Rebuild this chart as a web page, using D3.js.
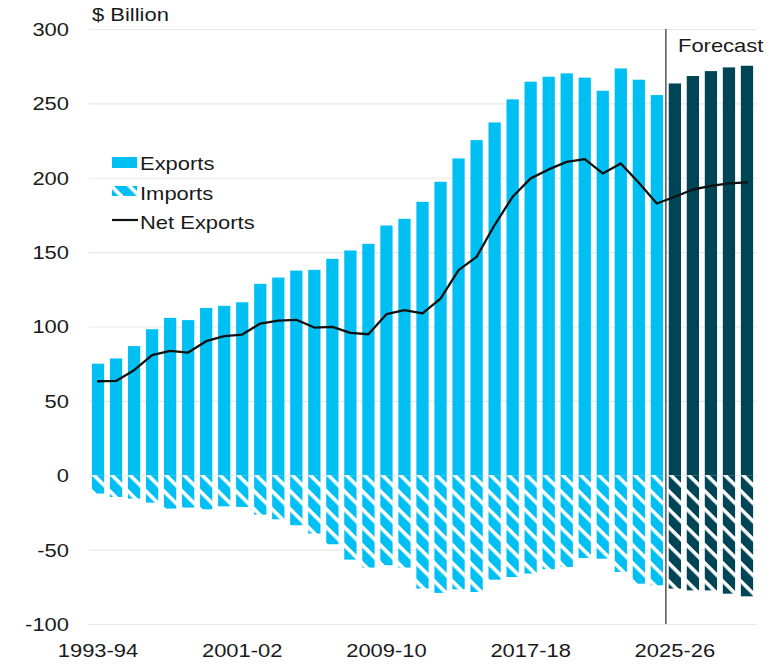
<!DOCTYPE html>
<html>
<head>
<meta charset="utf-8">
<script src="https://cdn.jsdelivr.net/npm/d3@7/dist/d3.min.js"></script>
<style>
  html, body { margin: 0; padding: 0; background: #fff; }
  svg { display: block; }
  text { font-family: "Liberation Sans", Arial, sans-serif; fill: #1a1a1a; }
</style>
</head>
<body>
<svg id="chart" width="782" height="664"></svg>
<script>
// Financial years
const years = [
  "1993-94","1994-95","1995-96","1996-97","1997-98","1998-99","1999-00","2000-01",
  "2001-02","2002-03","2003-04","2004-05","2005-06","2006-07","2007-08","2008-09",
  "2009-10","2010-11","2011-12","2012-13","2013-14","2014-15","2015-16","2016-17",
  "2017-18","2018-19","2019-20","2020-21","2021-22","2022-23","2023-24","2024-25",
  "2025-26","2026-27","2027-28","2028-29","2029-30"
];
// $ billion
const exportsVals = [
  75, 78.5, 86.8, 98.2, 105.8, 104.3, 112.5, 113.9, 116.3, 128.7,
  132.9, 137.6, 138.1, 145.5, 151.1, 155.6, 167.9, 172.4, 183.8, 197.3,
  213, 225.3, 237.2, 252.7, 264.6, 267.9, 270.2, 267.3, 258.5, 273.5,
  265.9, 255.6, 263.4, 268.4, 271.7, 274.2, 275.3
];
const importsVals = [
  -12.3, -14.6, -15.7, -18.4, -22.4, -21.7, -22.9, -20.9, -21.3, -26.5,
  -29.6, -33.6, -39.2, -46.4, -56.7, -62.1, -60.5, -62.1, -76.2, -79.1,
  -76.7, -78.5, -70.2, -68.4, -66.1, -63.2, -61.7, -55.6, -56.1, -65,
  -72.9, -74, -76.2, -77.4, -77.4, -79.6, -81.4
];
const netVals = [
  63.2, 63.4, 70.6, 80.7, 83.6, 82.5, 90.1, 93.5, 94.6, 102,
  104, 104.5, 99.3, 99.8, 95.7, 94.8, 108.3, 111, 108.8, 118.8,
  137.9, 146.8, 168.2, 187.2, 199.6, 205.6, 210.7, 212.5, 202.9, 209.6,
  196.6, 182.7, 187.2, 192.1, 194.6, 196.2, 196.9
];
const firstForecast = "2025-26";
const xTickLabels = ["1993-94", "2001-02", "2009-10", "2017-18", "2025-26"];
const yTickValues = [-100, -50, 0, 50, 100, 150, 200, 250, 300];

const rows = years.map((yr, i) => ({
  year: yr, exp: exportsVals[i], imp: importsVals[i], net: netVals[i],
  forecast: i >= years.indexOf(firstForecast)
}));

const LIGHT = "#00c0f3";
const DARK = "#004556";
const FS = 18;      // font size
const SX = 1.22;    // horizontal text stretch

const svg = d3.select("#chart");

const x = d3.scaleBand().domain(years).range([89, 756])
  .paddingInner(0.32).paddingOuter(0.16);
const y = d3.scaleLinear().domain([-100, 300]).range([624, 29]);

// Diagonal-stripe fills for imports
const defs = svg.append("defs");
function stripes(id, color) {
  const p = defs.append("pattern").attr("id", id)
    .attr("patternUnits", "userSpaceOnUse")
    .attr("width", 12.75).attr("height", 12.75)
    .attr("patternTransform", "rotate(45)");
  p.append("rect").attr("width", 12.75).attr("height", 12.75).attr("fill", color);
  p.append("rect").attr("y", 0).attr("width", 12.75).attr("height", 3.6).attr("fill", "#fff");
}
stripes("impLight", LIGHT);
stripes("impDark", DARK);

// Gridlines
svg.append("g").attr("transform", "translate(89,0)")
  .call(d3.axisLeft(y).tickValues(yTickValues).tickSize(-(757 - 89)).tickFormat(""))
  .call(g => g.select(".domain").remove())
  .call(g => g.selectAll("line").attr("stroke", "#e8e8e8").attr("stroke-width", 1.2));

// Y axis labels (plain hyphen for negatives)
svg.append("g").attr("transform", "translate(69,0)")
  .call(d3.axisLeft(y).tickValues(yTickValues).tickSize(0).tickPadding(0)
    .tickFormat(d => String(d)))
  .call(g => g.select(".domain").remove())
  .call(g => g.selectAll("text")
    .attr("x", 0).attr("dy", "0.36em")
    .attr("transform", `scale(${SX},1)`)
    .style("font-size", FS + "px").style("font-family", null).attr("fill", "#1a1a1a"));

// X axis labels
svg.append("g").attr("transform", "translate(0,644)")
  .call(d3.axisBottom(x).tickValues(xTickLabels).tickSize(0).tickPadding(0))
  .call(g => g.select(".domain").remove())
  .call(g => g.selectAll("text")
    .attr("y", 0).attr("dy", "0.71em")
    .attr("transform", `scale(${SX},1)`)
    .style("font-size", FS + "px").style("font-family", null).attr("fill", "#1a1a1a"));

// Exports bars
svg.append("g").selectAll("rect").data(rows).join("rect")
  .attr("x", d => x(d.year)).attr("width", x.bandwidth())
  .attr("y", d => y(d.exp)).attr("height", d => y(0) - y(d.exp))
  .attr("fill", d => d.forecast ? DARK : LIGHT);

// Imports bars
svg.append("g").selectAll("rect").data(rows).join("rect")
  .attr("x", d => x(d.year)).attr("width", x.bandwidth())
  .attr("y", y(0)).attr("height", d => y(d.imp) - y(0))
  .attr("fill", d => d.forecast ? "url(#impDark)" : "url(#impLight)");

// Forecast divider
const divX = x(firstForecast) - x.step() * x.paddingInner() / 2;
svg.append("line").attr("x1", divX).attr("x2", divX)
  .attr("y1", y(300)).attr("y2", y(-100))
  .attr("stroke", "#555").attr("stroke-width", 1.5);

// Net exports line
svg.append("path").datum(rows)
  .attr("fill", "none").attr("stroke", "#111").attr("stroke-width", 2.3)
  .attr("stroke-linejoin", "round").attr("stroke-linecap", "round")
  .attr("d", d3.line().x(d => x(d.year) + x.bandwidth() / 2).y(d => y(d.net)));

// Text helper with horizontal stretch
function label(txt, tx, ty, anchor) {
  svg.append("text")
    .attr("transform", `translate(${tx},${ty}) scale(${SX},1)`)
    .attr("text-anchor", anchor || "start")
    .style("font-size", FS + "px")
    .text(txt);
}

label("$ Billion", 92, 21);
label("Forecast", 678, 52);

// Legend
const lg = svg.append("g");
lg.append("rect").attr("x", 112).attr("y", 157).attr("width", 25).attr("height", 11).attr("fill", LIGHT);
lg.append("rect").attr("x", 112).attr("y", 186).attr("width", 25).attr("height", 10).attr("fill", "url(#impLight)");
lg.append("line").attr("x1", 112).attr("x2", 138).attr("y1", 220).attr("y2", 220)
  .attr("stroke", "#111").attr("stroke-width", 2.2);
label("Exports", 140, 170);
label("Imports", 140, 200);
label("Net Exports", 140, 229);
</script>
</body>
</html>
